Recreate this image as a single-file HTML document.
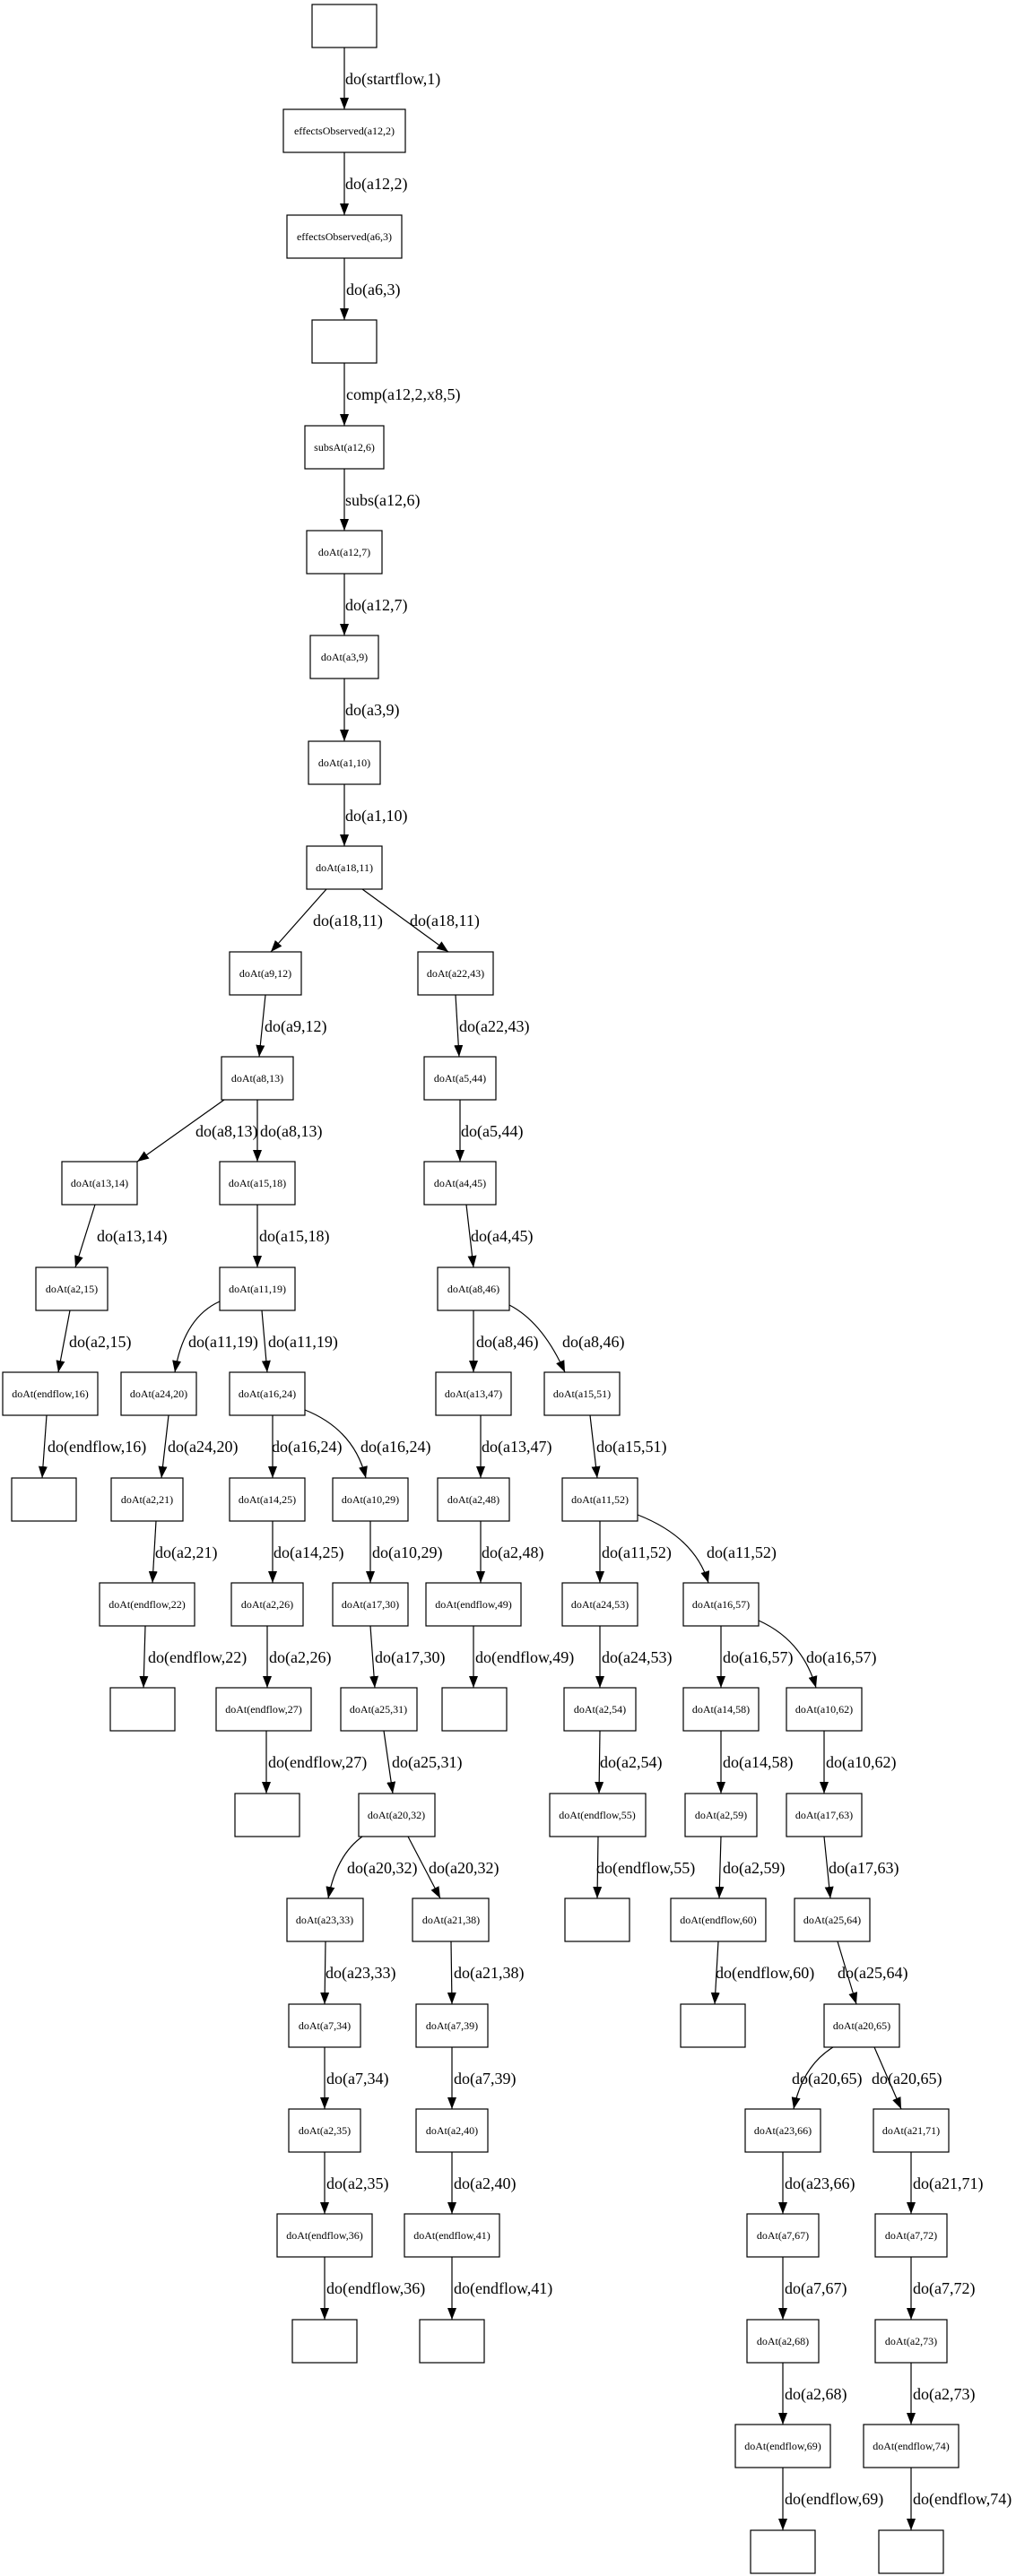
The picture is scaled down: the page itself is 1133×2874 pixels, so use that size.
<!DOCTYPE html>
<html><head><meta charset="utf-8"><style>
html,body{margin:0;padding:0;background:#fff;}
svg{display:block;}
rect{fill:#fff;stroke:#000;stroke-width:1.2;}
line,path.c{stroke:#000;stroke-width:1.2;fill:none;}
text{font-family:"Liberation Serif",serif;fill:#000;}
.n{font-size:12px;text-anchor:middle;}
.e{font-size:18px;}
</style></head><body>
<svg width="1133" height="2874" viewBox="0 0 1133 2874" xmlns="http://www.w3.org/2000/svg">
<defs><marker id="a" markerUnits="userSpaceOnUse" markerWidth="13" markerHeight="10" refX="13" refY="5" orient="auto"><path d="M0,0 L13,5 L0,10 z" fill="#000"/></marker></defs>
<g>
<rect x="348" y="5" width="72" height="48"/>
<rect x="316" y="122" width="136" height="48"/><text class="n" x="384" y="150">effectsObserved(a12,2)</text>
<rect x="320" y="240" width="128" height="48"/><text class="n" x="384" y="268">effectsObserved(a6,3)</text>
<rect x="348" y="357" width="72" height="48"/>
<rect x="340" y="475" width="88" height="48"/><text class="n" x="384" y="503">subsAt(a12,6)</text>
<rect x="342" y="592" width="84" height="48"/><text class="n" x="384" y="620">doAt(a12,7)</text>
<rect x="346" y="709" width="76" height="48"/><text class="n" x="384" y="737">doAt(a3,9)</text>
<rect x="344" y="827" width="80" height="48"/><text class="n" x="384" y="855">doAt(a1,10)</text>
<rect x="342" y="944" width="84" height="48"/><text class="n" x="384" y="972">doAt(a18,11)</text>

<rect x="256" y="1062" width="80" height="48"/><text class="n" x="296" y="1090">doAt(a9,12)</text>
<rect x="466" y="1062" width="84" height="48"/><text class="n" x="508" y="1090">doAt(a22,43)</text>

<rect x="247" y="1179" width="80" height="48"/><text class="n" x="287" y="1207">doAt(a8,13)</text>
<rect x="473" y="1179" width="80" height="48"/><text class="n" x="513" y="1207">doAt(a5,44)</text>

<rect x="69" y="1296" width="84" height="48"/><text class="n" x="111" y="1324">doAt(a13,14)</text>
<rect x="245" y="1296" width="84" height="48"/><text class="n" x="287" y="1324">doAt(a15,18)</text>
<rect x="473" y="1296" width="80" height="48"/><text class="n" x="513" y="1324">doAt(a4,45)</text>

<rect x="40" y="1414" width="80" height="48"/><text class="n" x="80" y="1442">doAt(a2,15)</text>
<rect x="245" y="1414" width="84" height="48"/><text class="n" x="287" y="1442">doAt(a11,19)</text>
<rect x="488" y="1414" width="80" height="48"/><text class="n" x="528" y="1442">doAt(a8,46)</text>

<rect x="3" y="1531" width="106" height="48"/><text class="n" x="56" y="1559">doAt(endflow,16)</text>
<rect x="135" y="1531" width="84" height="48"/><text class="n" x="177" y="1559">doAt(a24,20)</text>
<rect x="256" y="1531" width="84" height="48"/><text class="n" x="298" y="1559">doAt(a16,24)</text>
<rect x="486" y="1531" width="84" height="48"/><text class="n" x="528" y="1559">doAt(a13,47)</text>
<rect x="607" y="1531" width="84" height="48"/><text class="n" x="649" y="1559">doAt(a15,51)</text>

<rect x="13" y="1649" width="72" height="48"/>
<rect x="124" y="1649" width="80" height="48"/><text class="n" x="164" y="1677">doAt(a2,21)</text>
<rect x="256" y="1649" width="84" height="48"/><text class="n" x="298" y="1677">doAt(a14,25)</text>
<rect x="371" y="1649" width="84" height="48"/><text class="n" x="413" y="1677">doAt(a10,29)</text>
<rect x="488" y="1649" width="80" height="48"/><text class="n" x="528" y="1677">doAt(a2,48)</text>
<rect x="627" y="1649" width="84" height="48"/><text class="n" x="669" y="1677">doAt(a11,52)</text>

<rect x="111" y="1766" width="106" height="48"/><text class="n" x="164" y="1794">doAt(endflow,22)</text>
<rect x="258" y="1766" width="80" height="48"/><text class="n" x="298" y="1794">doAt(a2,26)</text>
<rect x="371" y="1766" width="84" height="48"/><text class="n" x="413" y="1794">doAt(a17,30)</text>
<rect x="475" y="1766" width="106" height="48"/><text class="n" x="528" y="1794">doAt(endflow,49)</text>
<rect x="627" y="1766" width="84" height="48"/><text class="n" x="669" y="1794">doAt(a24,53)</text>
<rect x="762" y="1766" width="84" height="48"/><text class="n" x="804" y="1794">doAt(a16,57)</text>

<rect x="123" y="1883" width="72" height="48"/>
<rect x="241" y="1883" width="106" height="48"/><text class="n" x="294" y="1911">doAt(endflow,27)</text>
<rect x="380" y="1883" width="85" height="48"/><text class="n" x="422" y="1911">doAt(a25,31)</text>
<rect x="493" y="1883" width="72" height="48"/>
<rect x="629" y="1883" width="80" height="48"/><text class="n" x="669" y="1911">doAt(a2,54)</text>
<rect x="762" y="1883" width="84" height="48"/><text class="n" x="804" y="1911">doAt(a14,58)</text>
<rect x="877" y="1883" width="84" height="48"/><text class="n" x="919" y="1911">doAt(a10,62)</text>

<rect x="262" y="2001" width="72" height="48"/>
<rect x="400" y="2001" width="85" height="48"/><text class="n" x="442" y="2029">doAt(a20,32)</text>
<rect x="613" y="2001" width="107" height="48"/><text class="n" x="666" y="2029">doAt(endflow,55)</text>
<rect x="764" y="2001" width="80" height="48"/><text class="n" x="804" y="2029">doAt(a2,59)</text>
<rect x="877" y="2001" width="84" height="48"/><text class="n" x="919" y="2029">doAt(a17,63)</text>

<rect x="320" y="2118" width="85" height="48"/><text class="n" x="362" y="2146">doAt(a23,33)</text>
<rect x="460" y="2118" width="85" height="48"/><text class="n" x="503" y="2146">doAt(a21,38)</text>
<rect x="630" y="2118" width="72" height="48"/>
<rect x="748" y="2118" width="106" height="48"/><text class="n" x="801" y="2146">doAt(endflow,60)</text>
<rect x="886" y="2118" width="84" height="48"/><text class="n" x="928" y="2146">doAt(a25,64)</text>

<rect x="322" y="2236" width="80" height="48"/><text class="n" x="362" y="2264">doAt(a7,34)</text>
<rect x="464" y="2236" width="80" height="48"/><text class="n" x="504" y="2264">doAt(a7,39)</text>
<rect x="759" y="2236" width="72" height="48"/>
<rect x="919" y="2236" width="84" height="48"/><text class="n" x="961" y="2264">doAt(a20,65)</text>

<rect x="322" y="2353" width="80" height="48"/><text class="n" x="362" y="2381">doAt(a2,35)</text>
<rect x="464" y="2353" width="80" height="48"/><text class="n" x="504" y="2381">doAt(a2,40)</text>
<rect x="831" y="2353" width="84" height="48"/><text class="n" x="873" y="2381">doAt(a23,66)</text>
<rect x="974" y="2353" width="84" height="48"/><text class="n" x="1016" y="2381">doAt(a21,71)</text>

<rect x="309" y="2470" width="106" height="48"/><text class="n" x="362" y="2498">doAt(endflow,36)</text>
<rect x="451" y="2470" width="106" height="48"/><text class="n" x="504" y="2498">doAt(endflow,41)</text>
<rect x="833" y="2470" width="80" height="48"/><text class="n" x="873" y="2498">doAt(a7,67)</text>
<rect x="976" y="2470" width="80" height="48"/><text class="n" x="1016" y="2498">doAt(a7,72)</text>

<rect x="326" y="2588" width="72" height="48"/>
<rect x="468" y="2588" width="72" height="48"/>
<rect x="833" y="2588" width="80" height="48"/><text class="n" x="873" y="2616">doAt(a2,68)</text>
<rect x="976" y="2588" width="80" height="48"/><text class="n" x="1016" y="2616">doAt(a2,73)</text>

<rect x="820" y="2705" width="106" height="48"/><text class="n" x="873" y="2733">doAt(endflow,69)</text>
<rect x="963" y="2705" width="106" height="48"/><text class="n" x="1016" y="2733">doAt(endflow,74)</text>

<rect x="837" y="2823" width="72" height="48"/>
<rect x="980" y="2823" width="72" height="48"/>
</g>
<g>
<line x1="384" y1="53" x2="384" y2="122" marker-end="url(#a)"/>
<line x1="384" y1="170" x2="384" y2="240" marker-end="url(#a)"/>
<line x1="384" y1="288" x2="384" y2="357" marker-end="url(#a)"/>
<line x1="384" y1="405" x2="384" y2="475" marker-end="url(#a)"/>
<line x1="384" y1="523" x2="384" y2="592" marker-end="url(#a)"/>
<line x1="384" y1="640" x2="384" y2="709" marker-end="url(#a)"/>
<line x1="384" y1="757" x2="384" y2="827" marker-end="url(#a)"/>
<line x1="384" y1="875" x2="384" y2="944" marker-end="url(#a)"/>
<line x1="364" y1="992" x2="302" y2="1062" marker-end="url(#a)"/>
<line x1="404" y1="992" x2="500" y2="1062" marker-end="url(#a)"/>
<line x1="296" y1="1110" x2="289" y2="1179" marker-end="url(#a)"/>
<line x1="508" y1="1110" x2="512" y2="1179" marker-end="url(#a)"/>
<line x1="250" y1="1227" x2="153" y2="1296" marker-end="url(#a)"/>
<line x1="287" y1="1227" x2="287" y2="1296" marker-end="url(#a)"/>
<line x1="513" y1="1227" x2="513" y2="1296" marker-end="url(#a)"/>
<line x1="106" y1="1344" x2="84" y2="1414" marker-end="url(#a)"/>
<line x1="287" y1="1344" x2="287" y2="1414" marker-end="url(#a)"/>
<line x1="520" y1="1344" x2="528" y2="1414" marker-end="url(#a)"/>
<line x1="78" y1="1462" x2="65" y2="1531" marker-end="url(#a)"/>
<path class="c" d="M245,1452 Q205,1470 195,1531" marker-end="url(#a)"/>
<line x1="292" y1="1462" x2="298" y2="1531" marker-end="url(#a)"/>
<line x1="528" y1="1462" x2="528" y2="1531" marker-end="url(#a)"/>
<path class="c" d="M568,1456 Q605,1475 630,1531" marker-end="url(#a)"/>
<line x1="52" y1="1579" x2="47" y2="1649" marker-end="url(#a)"/>
<line x1="188" y1="1579" x2="180" y2="1649" marker-end="url(#a)"/>
<line x1="304" y1="1579" x2="304" y2="1649" marker-end="url(#a)"/>
<path class="c" d="M340,1573 Q395,1595 408,1649" marker-end="url(#a)"/>
<line x1="536" y1="1579" x2="536" y2="1649" marker-end="url(#a)"/>
<line x1="658" y1="1579" x2="666" y2="1649" marker-end="url(#a)"/>
<line x1="174" y1="1697" x2="170" y2="1766" marker-end="url(#a)"/>
<line x1="304" y1="1697" x2="304" y2="1766" marker-end="url(#a)"/>
<line x1="413" y1="1697" x2="413" y2="1766" marker-end="url(#a)"/>
<line x1="536" y1="1697" x2="536" y2="1766" marker-end="url(#a)"/>
<line x1="669" y1="1697" x2="669" y2="1766" marker-end="url(#a)"/>
<path class="c" d="M711,1690 Q775,1715 790,1766" marker-end="url(#a)"/>
<line x1="162" y1="1814" x2="160" y2="1883" marker-end="url(#a)"/>
<line x1="298" y1="1814" x2="298" y2="1883" marker-end="url(#a)"/>
<line x1="413" y1="1814" x2="418" y2="1883" marker-end="url(#a)"/>
<line x1="528" y1="1814" x2="528" y2="1883" marker-end="url(#a)"/>
<line x1="669" y1="1814" x2="669" y2="1883" marker-end="url(#a)"/>
<line x1="804" y1="1814" x2="804" y2="1883" marker-end="url(#a)"/>
<path class="c" d="M846,1808 Q895,1830 910,1883" marker-end="url(#a)"/>
<line x1="297" y1="1931" x2="297" y2="2001" marker-end="url(#a)"/>
<line x1="428" y1="1931" x2="438" y2="2001" marker-end="url(#a)"/>
<line x1="669" y1="1931" x2="668" y2="2001" marker-end="url(#a)"/>
<line x1="804" y1="1931" x2="804" y2="2001" marker-end="url(#a)"/>
<line x1="919" y1="1931" x2="919" y2="2001" marker-end="url(#a)"/>
<path class="c" d="M404,2049 Q375,2070 366,2118" marker-end="url(#a)"/>
<line x1="455" y1="2049" x2="491" y2="2118" marker-end="url(#a)"/>
<line x1="667" y1="2049" x2="666" y2="2118" marker-end="url(#a)"/>
<line x1="804" y1="2049" x2="802" y2="2118" marker-end="url(#a)"/>
<line x1="919" y1="2049" x2="926" y2="2118" marker-end="url(#a)"/>
<line x1="363" y1="2166" x2="362" y2="2236" marker-end="url(#a)"/>
<line x1="503" y1="2166" x2="504" y2="2236" marker-end="url(#a)"/>
<line x1="801" y1="2166" x2="797" y2="2236" marker-end="url(#a)"/>
<line x1="934" y1="2166" x2="955" y2="2236" marker-end="url(#a)"/>
<line x1="362" y1="2284" x2="362" y2="2353" marker-end="url(#a)"/>
<line x1="504" y1="2284" x2="504" y2="2353" marker-end="url(#a)"/>
<path class="c" d="M929,2284 Q895,2305 885,2353" marker-end="url(#a)"/>
<line x1="975" y1="2284" x2="1005" y2="2353" marker-end="url(#a)"/>
<line x1="362" y1="2401" x2="362" y2="2470" marker-end="url(#a)"/>
<line x1="504" y1="2401" x2="504" y2="2470" marker-end="url(#a)"/>
<line x1="873" y1="2401" x2="873" y2="2470" marker-end="url(#a)"/>
<line x1="1016" y1="2401" x2="1016" y2="2470" marker-end="url(#a)"/>
<line x1="362" y1="2518" x2="362" y2="2588" marker-end="url(#a)"/>
<line x1="504" y1="2518" x2="504" y2="2588" marker-end="url(#a)"/>
<line x1="873" y1="2518" x2="873" y2="2588" marker-end="url(#a)"/>
<line x1="1016" y1="2518" x2="1016" y2="2588" marker-end="url(#a)"/>
<line x1="873" y1="2636" x2="873" y2="2705" marker-end="url(#a)"/>
<line x1="1016" y1="2636" x2="1016" y2="2705" marker-end="url(#a)"/>
<line x1="873" y1="2753" x2="873" y2="2823" marker-end="url(#a)"/>
<line x1="1016" y1="2753" x2="1016" y2="2823" marker-end="url(#a)"/>
</g>
<g>
<text class="e" x="385" y="94">do(startflow,1)</text>
<text class="e" x="385" y="211">do(a12,2)</text>
<text class="e" x="386" y="329">do(a6,3)</text>
<text class="e" x="386" y="446">comp(a12,2,x8,5)</text>
<text class="e" x="385" y="564">subs(a12,6)</text>
<text class="e" x="385" y="681">do(a12,7)</text>
<text class="e" x="385" y="798">do(a3,9)</text>
<text class="e" x="385" y="916">do(a1,10)</text>
<text class="e" x="349" y="1033">do(a18,11)</text>
<text class="e" x="457" y="1033">do(a18,11)</text>
<text class="e" x="295" y="1151">do(a9,12)</text>
<text class="e" x="512" y="1151">do(a22,43)</text>
<text class="e" x="218" y="1268">do(a8,13)</text>
<text class="e" x="290" y="1268">do(a8,13)</text>
<text class="e" x="514" y="1268">do(a5,44)</text>
<text class="e" x="108" y="1385">do(a13,14)</text>
<text class="e" x="289" y="1385">do(a15,18)</text>
<text class="e" x="525" y="1385">do(a4,45)</text>
<text class="e" x="77" y="1503">do(a2,15)</text>
<text class="e" x="210" y="1503">do(a11,19)</text>
<text class="e" x="299" y="1503">do(a11,19)</text>
<text class="e" x="531" y="1503">do(a8,46)</text>
<text class="e" x="627" y="1503">do(a8,46)</text>
<text class="e" x="53" y="1620">do(endflow,16)</text>
<text class="e" x="187" y="1620">do(a24,20)</text>
<text class="e" x="303" y="1620">do(a16,24)</text>
<text class="e" x="402" y="1620">do(a16,24)</text>
<text class="e" x="537" y="1620">do(a13,47)</text>
<text class="e" x="665" y="1620">do(a15,51)</text>
<text class="e" x="173" y="1738">do(a2,21)</text>
<text class="e" x="305" y="1738">do(a14,25)</text>
<text class="e" x="415" y="1738">do(a10,29)</text>
<text class="e" x="537" y="1738">do(a2,48)</text>
<text class="e" x="671" y="1738">do(a11,52)</text>
<text class="e" x="788" y="1738">do(a11,52)</text>
<text class="e" x="165" y="1855">do(endflow,22)</text>
<text class="e" x="300" y="1855">do(a2,26)</text>
<text class="e" x="418" y="1855">do(a17,30)</text>
<text class="e" x="530" y="1855">do(endflow,49)</text>
<text class="e" x="671" y="1855">do(a24,53)</text>
<text class="e" x="806" y="1855">do(a16,57)</text>
<text class="e" x="899" y="1855">do(a16,57)</text>
<text class="e" x="299" y="1972">do(endflow,27)</text>
<text class="e" x="437" y="1972">do(a25,31)</text>
<text class="e" x="669" y="1972">do(a2,54)</text>
<text class="e" x="806" y="1972">do(a14,58)</text>
<text class="e" x="921" y="1972">do(a10,62)</text>
<text class="e" x="387" y="2090">do(a20,32)</text>
<text class="e" x="478" y="2090">do(a20,32)</text>
<text class="e" x="665" y="2090">do(endflow,55)</text>
<text class="e" x="806" y="2090">do(a2,59)</text>
<text class="e" x="924" y="2090">do(a17,63)</text>
<text class="e" x="363" y="2207">do(a23,33)</text>
<text class="e" x="506" y="2207">do(a21,38)</text>
<text class="e" x="798" y="2207">do(endflow,60)</text>
<text class="e" x="934" y="2207">do(a25,64)</text>
<text class="e" x="364" y="2325">do(a7,34)</text>
<text class="e" x="506" y="2325">do(a7,39)</text>
<text class="e" x="883" y="2325">do(a20,65)</text>
<text class="e" x="972" y="2325">do(a20,65)</text>
<text class="e" x="364" y="2442">do(a2,35)</text>
<text class="e" x="506" y="2442">do(a2,40)</text>
<text class="e" x="875" y="2442">do(a23,66)</text>
<text class="e" x="1018" y="2442">do(a21,71)</text>
<text class="e" x="364" y="2559">do(endflow,36)</text>
<text class="e" x="506" y="2559">do(endflow,41)</text>
<text class="e" x="875" y="2559">do(a7,67)</text>
<text class="e" x="1018" y="2559">do(a7,72)</text>
<text class="e" x="875" y="2677">do(a2,68)</text>
<text class="e" x="1018" y="2677">do(a2,73)</text>
<text class="e" x="875" y="2794">do(endflow,69)</text>
<text class="e" x="1018" y="2794">do(endflow,74)</text>
</g>
</svg>
</body></html>
